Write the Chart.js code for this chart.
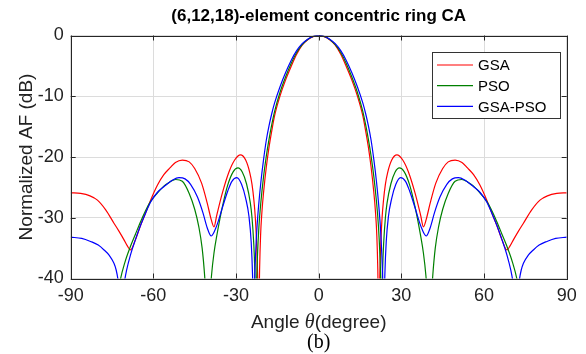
<!DOCTYPE html>
<html>
<head>
<meta charset="utf-8">
<script src="https://cdn.jsdelivr.net/npm/chart.js@4.4.1/dist/chart.umd.min.js"></script>
<style>
  html,body{margin:0;padding:0;background:#fff;}
  #wrap{width:586px;height:354px;position:relative;}
</style>
</head>
<body>
<div id="wrap"><canvas id="c" width="586" height="354"></canvas></div>
<script>
// axis ticks
const xTicks = [-90,-60,-30,0,30,60,90];
const yTicks = [-40,-30,-20,-10,0];

// GSA (red)
const gsaAngles = [-90,-86.4,-83,-80.3,-77.3,-74.3,-72.5,-70.7,-69.5,-68.3,-66.5,-64.6,-62.8,-61,-58.5,-56.2,-54,-52,-49.5,-47,-45,-42.5,-40.5,-39,-38,-37,-35,-32.5,-30.5,-28.4,-26.5,-25,-24.2,-23.5,-23,-22.6,-22.2,-21.8,-21.45,-21.1,-20.6,-20,-19,-18,-17,-16,-14,-12,-10,-8,-6,-4,-2,
  0,2,4,6,8,10,12,14,16,17,18,19,20,20.6,21.1,21.45,21.8,22.2,22.6,23,23.5,24.2,25,26.5,28.4,30.5,32.5,35,37,38,39,40.5,42.5,45,47,49.5,52,54,56.2,58.5,61,62.8,64.6,66.5,68.3,69.5,70.7,72.5,74.3,77.3,80.3,83,86.4,90];
const gsaValues = [-25.9,-26,-26.4,-27.1,-28.7,-30.9,-32.2,-33.6,-34.6,-35.3,-33.6,-31.2,-29.2,-27.1,-24.6,-22.9,-21.8,-20.9,-20.5,-20.8,-21.9,-24.3,-27.5,-30.3,-31.5,-29.6,-26,-22.4,-20.5,-19.65,-20.5,-22.6,-24.5,-27.2,-30,-33.5,-39,-48,-38.5,-33,-29,-25.8,-21.6,-18.3,-15.6,-13.2,-9.9,-7.3,-5.1,-3.1,-1.6,-0.7,-0.18,
  0,-0.18,-0.7,-1.6,-3.1,-5.1,-7.3,-9.9,-13.2,-15.6,-18.3,-21.6,-25.8,-29,-33,-38.5,-48,-39,-33.5,-30,-27.2,-24.5,-22.6,-20.5,-19.65,-20.5,-22.4,-26,-29.6,-31.5,-30.3,-27.5,-24.3,-21.9,-20.8,-20.5,-20.9,-21.8,-22.9,-24.6,-27.1,-29.2,-31.2,-33.6,-35.3,-34.6,-33.6,-32.2,-30.9,-28.7,-27.1,-26.4,-26,-25.9];

// PSO (green)
const psoAngles = [-90,-84,-78,-74,-72.1,-70.3,-68.3,-66.5,-64.6,-62.8,-61,-58.5,-56.2,-54,-51.9,-49.5,-47,-45,-43.5,-42.3,-41.4,-40.8,-40.2,-39.6,-38.9,-38,-37,-35,-33,-31,-29.3,-27.7,-26.2,-24.8,-24.2,-23.6,-23.2,-22.8,-22.5,-22.2,-21.7,-21,-20,-19,-18,-17,-16,-14,-12,-10,-8,-6,-4,-2,
  0,2,4,6,8,10,12,14,16,17,18,19,20,21,21.7,22.2,22.5,22.8,23.2,23.6,24.2,24.8,26.2,27.7,29.3,31,33,35,37,38,38.9,39.6,40.2,40.8,41.4,42.3,43.5,45,47,49.5,51.9,54,56.2,58.5,61,62.8,64.6,66.5,68.3,70.3,72.1,74,78,84,90];
const psoValues = [-56,-56,-55,-47,-40.5,-37.3,-34.7,-32.7,-30.6,-28.8,-27.3,-25.9,-24.8,-24.1,-23.7,-24,-26,-28.6,-31.5,-35,-39.5,-44,-50,-44,-39.5,-35.8,-33,-28.3,-24.6,-22.4,-21.8,-22.5,-24.4,-27.6,-30,-34,-38.5,-48,-40,-36,-31.5,-27.5,-23.2,-19.8,-17,-14.6,-12.5,-9.3,-6.8,-4.6,-2.8,-1.5,-0.65,-0.16,
  0,-0.16,-0.65,-1.5,-2.8,-4.6,-6.8,-9.3,-12.5,-14.6,-17,-19.8,-23.2,-27.5,-31.5,-36,-40,-48,-38.5,-34,-30,-27.6,-24.4,-22.5,-21.8,-22.4,-24.6,-28.3,-33,-35.8,-39.5,-44,-50,-44,-39.5,-35,-31.5,-28.6,-26,-24,-23.7,-24.1,-24.8,-25.9,-27.3,-28.8,-30.6,-32.7,-34.7,-37.3,-40.5,-47,-55,-56,-56];

// GSA-PSO (blue)
const hybAngles = [-90,-86,-82.8,-80,-77.9,-76,-74.3,-73.5,-72.8,-71.6,-70.4,-69.8,-68.3,-66.5,-64.6,-62.8,-61,-58.5,-56.2,-53,-50.7,-48.5,-46.5,-44,-42,-40.5,-39,-37,-35,-33,-31.5,-29.7,-28,-26.5,-25.3,-24.5,-24,-23.6,-23.25,-22.9,-22.4,-21.8,-21,-20,-19,-18,-17,-16,-14,-12,-10,-8,-6,-4,-2,
  0,2,4,6,8,10,12,14,16,17,18,19,20,21,21.8,22.4,22.9,23.25,23.6,24,24.5,25.3,26.5,28,29.7,31.5,33,35,37,39,40.5,42,44,46.5,48.5,50.7,53,56.2,58.5,61,62.8,64.6,66.5,68.3,69.8,70.4,71.6,72.8,73.5,74.3,76,77.9,80,82.8,86,90];
const hybValues = [-33.2,-33.4,-33.9,-34.5,-35.3,-36.2,-37.5,-38.6,-40.3,-45,-40.3,-38.8,-36.1,-33.6,-31.2,-29.2,-27.4,-25.8,-24.9,-23.8,-23.4,-23.6,-24.5,-26.6,-29.2,-31.6,-33,-31.3,-28.4,-25.6,-24,-23.4,-24.5,-26.8,-29.8,-34,-39.5,-48,-40.5,-36,-31.6,-28,-24.2,-20.4,-17.2,-14.8,-12.8,-11.1,-8.4,-6.1,-4.1,-2.5,-1.35,-0.6,-0.15,
  0,-0.15,-0.6,-1.35,-2.5,-4.1,-6.1,-8.4,-11.1,-12.8,-14.8,-17.2,-20.4,-24.2,-28,-31.6,-36,-40.5,-48,-39.5,-34,-29.8,-26.8,-24.5,-23.4,-24,-25.6,-28.4,-31.3,-33,-31.6,-29.2,-26.6,-24.5,-23.6,-23.4,-23.8,-24.9,-25.8,-27.4,-29.2,-31.2,-33.6,-36.1,-38.8,-40.3,-45,-40.3,-38.6,-37.5,-36.2,-35.3,-34.5,-33.9,-33.4,-33.2];

const seriesNames = ["GSA","PSO","GSA-PSO"];
const seriesColors = ["#ff0000","#008000","#0000ff"];

function pts(a, v){ return a.map((x,i)=>({x:x, y:v[i]})); }

const FONT = "'Liberation Sans', Arial, sans-serif";

// frame, inner ticks, titles and legend, matlab style
const decor = {
  id:'decor',
  afterDatasetsDraw(chart){
    const {ctx, chartArea:a, scales} = chart;
    const xs = scales.x, ys = scales.y;
    ctx.save();
    ctx.strokeStyle = '#262626';
    ctx.lineWidth = 1;
    ctx.beginPath();
    xTicks.forEach(t=>{
      const px = Math.round(xs.getPixelForValue(t))+0.5;
      ctx.moveTo(px, a.bottom); ctx.lineTo(px, a.bottom-5);
      ctx.moveTo(px, a.top); ctx.lineTo(px, a.top+5);
    });
    yTicks.forEach(t=>{
      const py = Math.round(ys.getPixelForValue(t))+0.5;
      ctx.moveTo(a.left, py); ctx.lineTo(a.left+5, py);
      ctx.moveTo(a.right, py); ctx.lineTo(a.right-5, py);
    });
    ctx.stroke();
    ctx.strokeRect(Math.round(a.left)+0.5, Math.round(a.top)+0.5, Math.round(a.right-a.left), Math.round(a.bottom-a.top));

    // legend
    const lx = 432.5, ly = 52.5, lw = 128, lh = 66;
    ctx.fillStyle = '#fff';
    ctx.fillRect(lx, ly, lw, lh);
    ctx.strokeStyle = '#333';
    ctx.strokeRect(lx, ly, lw, lh);
    ctx.font = '15px ' + FONT;
    ctx.textBaseline = 'middle';
    ctx.textAlign = 'left';
    seriesNames.forEach((n,i)=>{
      const yy = 65 + i*20.7;
      ctx.strokeStyle = seriesColors[i];
      ctx.lineWidth = 1.2;
      ctx.beginPath(); ctx.moveTo(437, yy); ctx.lineTo(473, yy); ctx.stroke();
      ctx.fillStyle = '#000';
      ctx.fillText(n, 478, yy+1);
    });

    // title
    ctx.fillStyle = '#000';
    ctx.font = 'bold 17px ' + FONT;
    ctx.textAlign = 'center';
    ctx.fillText('(6,12,18)-element concentric ring CA', (a.left+a.right)/2, 16);

    // y axis title
    ctx.save();
    ctx.translate(27, (a.top+a.bottom)/2);
    ctx.rotate(-Math.PI/2);
    ctx.font = '19px ' + FONT;
    ctx.fillStyle = '#222';
    ctx.fillText('Normalized AF (dB)', 0, 0);
    ctx.restore();

    // x axis title with italic theta
    const p1 = 'Angle ', p2 = '\u03B8', p3 = '(degree)';
    const f1 = '19px ' + FONT, f2 = 'italic 20px "Liberation Serif", serif';
    ctx.font = f1; const w1 = ctx.measureText(p1).width, w3 = ctx.measureText(p3).width;
    ctx.font = f2; const w2 = ctx.measureText(p2).width;
    let sx = (a.left+a.right)/2 - (w1+w2+w3)/2;
    const ty = 323;
    ctx.textAlign = 'left';
    ctx.fillStyle = '#222';
    ctx.font = f1; ctx.fillText(p1, sx, ty); sx += w1;
    ctx.font = f2; ctx.fillText(p2, sx, ty); sx += w2;
    ctx.font = f1; ctx.fillText(p3, sx, ty);

    ctx.textAlign = 'center';
    ctx.fillStyle = '#000';
    ctx.font = '20px "Liberation Serif", serif';
    ctx.fillText('(b)', (a.left+a.right)/2, 343);
    ctx.restore();
  }
};

const datasets = [
  {label:seriesNames[0], data:pts(gsaAngles,gsaValues), borderColor:seriesColors[0], order:3},
  {label:seriesNames[1], data:pts(psoAngles,psoValues), borderColor:seriesColors[1], order:2},
  {label:seriesNames[2], data:pts(hybAngles,hybValues), borderColor:seriesColors[2], order:1}
].map(d=>Object.assign(d,{borderWidth:1.2, pointRadius:0, fill:false, cubicInterpolationMode:'monotone'}));

new Chart(document.getElementById('c'), {
  type:'line',
  data:{datasets},
  options:{
    responsive:false,
    animation:false,
    events:[],
    layout:{padding:{top:35.5, right:19.3, left:0, bottom:0}},
    plugins:{legend:{display:false}, tooltip:{enabled:false}, title:{display:false}},
    scales:{
      x:{
        type:'linear', min:-90, max:90,
        afterBuildTicks:(s)=>{ s.ticks = xTicks.map(v=>({value:v})); },
        afterFit:(s)=>{ s.height = 75.5; },
        grid:{color:'#dcdcdc', lineWidth:1, drawTicks:false},
        border:{display:false},
        ticks:{color:'#222', font:{family:FONT, size:18}, padding:7, maxRotation:0, autoSkip:false}
      },
      y:{
        type:'linear', min:-40, max:0,
        afterBuildTicks:(s)=>{ s.ticks = yTicks.map(v=>({value:v})); },
        afterFit:(s)=>{ s.width = 70.7; },
        grid:{color:'#dcdcdc', lineWidth:1, drawTicks:false},
        border:{display:false},
        ticks:{color:'#222', font:{family:FONT, size:18}, padding:7, autoSkip:false}
      }
    }
  },
  plugins:[decor]
});
</script>
</body>
</html>
